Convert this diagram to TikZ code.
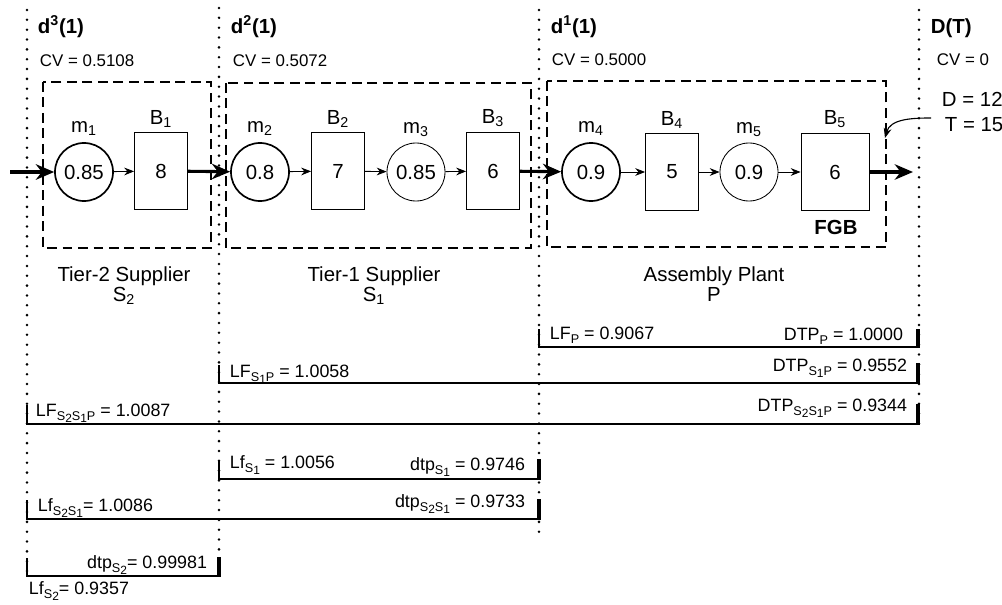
\documentclass[tikz,border=0pt]{standalone}
\usepackage{fontspec}
\setmainfont{Liberation Sans}
\usetikzlibrary{arrows.meta}

% subscripts for the factor labels
\newcommand{\sbs}[1]{\raisebox{-0.45ex}{\fontsize{9}{9}\selectfont #1}}
\newcommand{\ssbs}[1]{\raisebox{-0.4ex}{\fontsize{8.5}{8.5}\selectfont #1}}

\tikzset{
  machine/.style={circle,draw,line width=0.6pt,minimum size=1.45cm,inner sep=0pt},
  firstmachine/.style={machine,line width=1.2pt},
  buffer/.style={draw,line width=0.6pt,minimum width=1.325cm,minimum height=1.925cm,inner sep=0pt},
  stagebox/.style={line width=1.3pt,dash pattern=on 7pt off 4pt},
  timeline/.style={line width=2pt,line cap=round,dash pattern=on 0pt off 7pt},
  flow/.style={-{Stealth[length=7pt,width=5.5pt]},line width=0.6pt},
  bigflow/.style={-{Stealth[length=13pt,width=11pt]},line width=2.2pt},
  barline/.style={line width=0.8pt},
  endbar/.style={line width=2.2pt},
  small/.style={font=\fontsize{12}{14}\selectfont},
  valtext/.style={font=\fontsize{12.7}{14}\selectfont},
}

\begin{document}
\begin{tikzpicture}[x=0.025cm,y=-0.025cm,font=\fontsize{14.5}{16}\selectfont]
\useasboundingbox (0,0) rectangle (1002,605);

% decoupling points
\draw[timeline] (27,10) -- (27,578);
\draw[timeline] (219,8) -- (219,578);
\draw[timeline] (539,10) -- (539,535);
\draw[timeline] (919,10) -- (919,425);

\node[anchor=base west] (d3) at (33,33) {\textbf{d\textsuperscript{3}(1)}};
\node[anchor=base west] (d2) at (226,33) {\textbf{d\textsuperscript{2}(1)}};
\node[anchor=base west] (d1) at (546,33) {\textbf{d\textsuperscript{1}(1)}};
\node[anchor=base west] (dT) at (926,33) {\textbf{D(T)}};

\node[small,anchor=base west] (cv3) at (35,66) {CV = 0.5108};
\node[small,anchor=base west] (cv2) at (228,66) {CV = 0.5072};
\node[small,anchor=base west] (cv1) at (547,65) {CV = 0.5000};
\node[small,anchor=base west] (cv0) at (932,65) {CV = 0};

% stages
\draw[stagebox] (43,82) rectangle (211,248);
\draw[stagebox] (226,83) rectangle (531,248);
\draw[stagebox] (547,81) rectangle (886,247);

\node[firstmachine,label={[label distance=1pt]above:m\textsubscript{1}}] (m1) at (84,172) {0.85};
\node[buffer,label={[label distance=0pt]above:B\textsubscript{1}}] (b1) at (161,171) {8};
\node[firstmachine,label={[label distance=1pt]above:m\textsubscript{2}}] (m2) at (260,172) {0.8};
\node[buffer,label={[label distance=0pt]above:B\textsubscript{2}}] (b2) at (338,171) {7};
\node[machine,label={[label distance=1pt]above:m\textsubscript{3}}] (m3) at (416,172) {0.85};
\node[buffer,label={[label distance=0pt]above:B\textsubscript{3}}] (b3) at (493,171) {6};
\node[firstmachine,label={[label distance=1pt]above:m\textsubscript{4}}] (m4) at (591,172) {0.9};
\node[buffer,label={[label distance=0pt]above:B\textsubscript{4}}] (b4) at (672,172) {5};
\node[machine,label={[label distance=1pt]above:m\textsubscript{5}}] (m5) at (749,172) {0.9};
\node[buffer,minimum width=1.7cm,label={[label distance=0pt]above:B\textsubscript{5}}] (b5) at (835,172) {6};
\node[anchor=base] (fgb) at (836,234) {\textbf{FGB}};

\coordinate (src) at (10,172);
\coordinate (snk) at (913,172);
\draw[bigflow] (src) -- (m1);
\draw[flow] (m1) -- (b1);
\draw[bigflow] (b1) -- (m2);
\draw[flow] (m2) -- (b2);
\draw[flow] (b2) -- (m3);
\draw[flow] (m3) -- (b3);
\draw[bigflow] (b3) -- (m4);
\draw[flow] (m4) -- (b4);
\draw[flow] (b4) -- (m5);
\draw[flow] (m5) -- (b5);
\draw[bigflow] (b5) -- (snk);

% demand
\node[anchor=base west] (dem) at (937,106) {D = 12};
\node[anchor=base west] (per) at (940,131) {T = 15};
\coordinate (dmd) at (931,118);
\coordinate (fgbin) at (885,138);
\draw[-{Stealth[length=7pt,width=5.5pt]},line width=0.8pt] (dmd) to[out=180,in=75] (fgbin);

\node[align=center,anchor=north] (s2) at (124,262) {Tier-2 Supplier\\[-2pt]S\textsubscript{2}};
\node[align=center,anchor=north] (s1) at (374,262) {Tier-1 Supplier\\[-2pt]S\textsubscript{1}};
\node[align=center,anchor=north] (pl) at (714,262) {Assembly Plant\\[-2pt]P};

% lead time factors
\draw[barline] (539,329) -- (539,347) -- (918,347);
\draw[endbar] (918,329) -- (918,347.5);
\draw[barline] (219,365) -- (219,383) -- (918,383);
\draw[endbar] (918,363) -- (918,383.5);
\draw[barline] (27,405) -- (27,424) -- (918,424);
\draw[endbar] (918,404) -- (918,424.5);
\draw[barline] (219,460) -- (219,479) -- (539,479);
\draw[endbar] (539,459) -- (539,479.5);
\draw[barline] (27,500) -- (27,519) -- (539,519);
\draw[endbar] (539,499) -- (539,519.5);
\draw[barline] (27,558) -- (27,576) -- (219,576);
\draw[endbar] (219,557) -- (219,576.5);

\node[valtext,anchor=base west] (lfp) at (545,339) {LF\sbs{P} = 0.9067};
\node[valtext,anchor=base east] (dtpp) at (908,340) {DTP\sbs{P} = 1.0000};
\node[valtext,anchor=base east] (dtps1p) at (912,371) {DTP\sbs{S\ssbs{1}P} = 0.9552};
\node[valtext,anchor=base west] (lfs1p) at (225,377) {LF\sbs{S\ssbs{1}P} = 1.0058};
\node[valtext,anchor=base west] (lfs2s1p) at (31,416) {LF\sbs{S\ssbs{2}S\ssbs{1}P} = 1.0087};
\node[valtext,anchor=base east] (dtps2s1p) at (912,411) {DTP\sbs{S\ssbs{2}S\ssbs{1}P} = 0.9344};
\node[valtext,anchor=base west] (lfs1) at (225,468) {Lf\sbs{S\ssbs{1}} = 1.0056};
\node[valtext,anchor=base east] (dtps1) at (530,470) {dtp\sbs{S\ssbs{1}} = 0.9746};
\node[valtext,anchor=base west] (lfs2s1) at (33,511) {Lf\sbs{S\ssbs{2}S\ssbs{1}}= 1.0086};
\node[valtext,anchor=base east] (dtps2s1) at (530,507) {dtp\sbs{S\ssbs{2}S\ssbs{1}} = 0.9733};
\node[valtext,anchor=base east] (dtps2) at (212,568) {dtp\sbs{S\ssbs{2}}= 0.99981};
\node[valtext,anchor=base west] (lfs2) at (24,594) {Lf\sbs{S\ssbs{2}}= 0.9357};
\end{tikzpicture}
\end{document}
